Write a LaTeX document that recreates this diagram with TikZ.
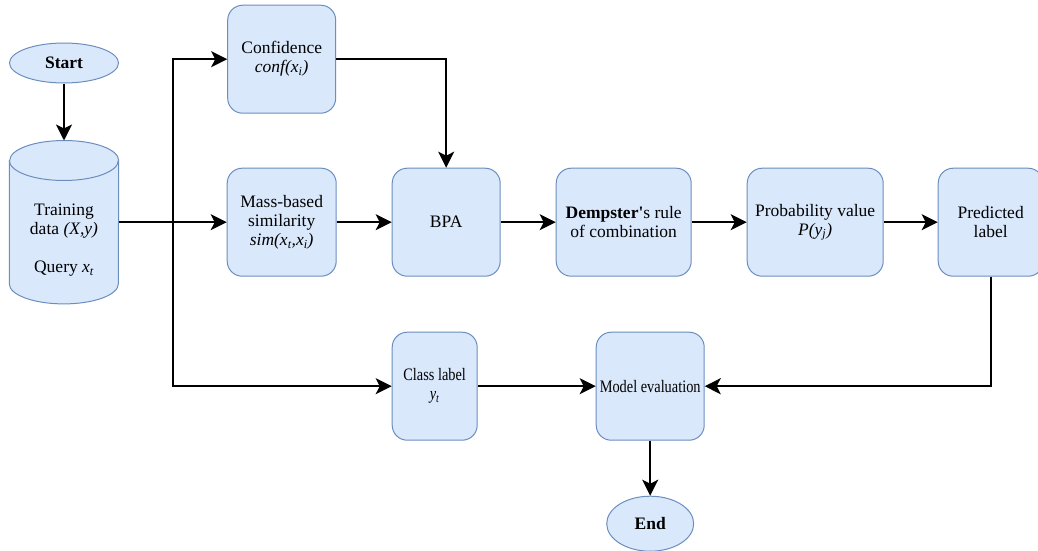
\documentclass[tikz,border=0pt]{standalone}
\usepackage{fontspec}
\setmainfont{Liberation Serif}
\newfontfamily\narrowfont[FakeStretch=0.82]{Liberation Serif}
\usetikzlibrary{shapes,arrows.meta,positioning,calc}
\usepackage{xcolor}
\definecolor{boxfill}{HTML}{DAE8FC}
\definecolor{boxline}{HTML}{6C8EBF}

\begin{document}
\begin{tikzpicture}[node distance=55pt, font=\fontsize{17.5}{19}\selectfont,
    proc/.style={draw=boxline,line width=1pt,fill=boxfill,rounded corners=15pt,align=center,minimum width=108pt,minimum height=108pt,inner sep=2pt},
    term/.style={draw=boxline,line width=1pt,fill=boxfill,ellipse,inner sep=0pt},
    db/.style={minimum width=109pt,minimum height=163pt,inner sep=0pt},
    dbline/.style={draw=boxline,line width=1pt,fill=boxfill},
    flow/.style={-{Stealth[length=16pt,width=16pt,inset=4pt]},line width=2pt}]
                \useasboundingbox (0,0) rectangle (1038pt,-551pt);
                \node[term,minimum width=109pt,minimum height=40pt] (start) at (64pt,-63pt) {\textbf{Start}};
                \node[db,below=57pt of start] (data) {};
                % cylinder for the data store
                \draw[dbline] ([yshift=-20pt]data.north west) -- ([yshift=20pt]data.south west)
                    arc[start angle=180,end angle=360,x radius=54.5pt,y radius=20pt]
                    -- ([yshift=-20pt]data.north east)
                    arc[start angle=0,end angle=180,x radius=54.5pt,y radius=20pt] -- cycle;
                \draw[dbline,fill=none] ([yshift=-20pt]data.north west)
                    arc[start angle=180,end angle=360,x radius=54.5pt,y radius=20pt];
                \node[align=center] (datatext) at ([yshift=-18pt]data.center) {Training\\data \textit{(X,y)}\\[19pt]Query \textit{x\textsubscript{t}}};
                \node[proc,minimum width=109pt,right=108pt of data] (mass) {Mass-based\\similarity\\\textit{sim(x\textsubscript{t},x\textsubscript{i})}};
                \node[proc,above=54pt of mass] (conf) {Confidence\\\textit{conf(x\textsubscript{i})}};
                \node[proc,right=of mass] (bpa) {BPA};
                \node[proc,minimum width=135pt,right=of bpa] (dempster) {\textbf{Dempster\textquotesingle}s rule\\of combination};
                \node[proc,minimum width=136pt,right=of dempster] (prob) {Probability value\\\textit{P(y\textsubscript{j})}};
                \node[proc,minimum width=105pt,right=54pt of prob] (pred) {Predicted\\label};
                \node[proc,minimum width=85pt,font=\fontsize{17.5}{19}\narrowfont,below=of bpa.south west,anchor=north west] (cls) {Class label\\\textit{y\textsubscript{t}}};
                \node[proc,font=\fontsize{17.5}{19}\narrowfont,right=118pt of cls] (model) {Model evaluation};
                \node[term,minimum width=87pt,minimum height=55pt,below=of model] (end) {\textbf{End}};
                \coordinate (split) at ($(data.east)!0.5!(mass.west)$);
                \draw[flow] (start) -- (data);
                \draw[flow] (data) -- (mass);
                \draw[flow] (split) |- (conf);
                \draw[flow] (split) |- (cls);
                \draw[flow] (conf) -| (bpa);
                \draw[flow] (mass) -- (bpa);
                \draw[flow] (bpa) -- (dempster);
                \draw[flow] (dempster) -- (prob);
                \draw[flow] (prob) -- (pred);
                \draw[flow] (pred) |- (model);
                \draw[flow] (cls) -- (model);
                \draw[flow] (model) -- (end);
            \end{tikzpicture}
\end{document}
